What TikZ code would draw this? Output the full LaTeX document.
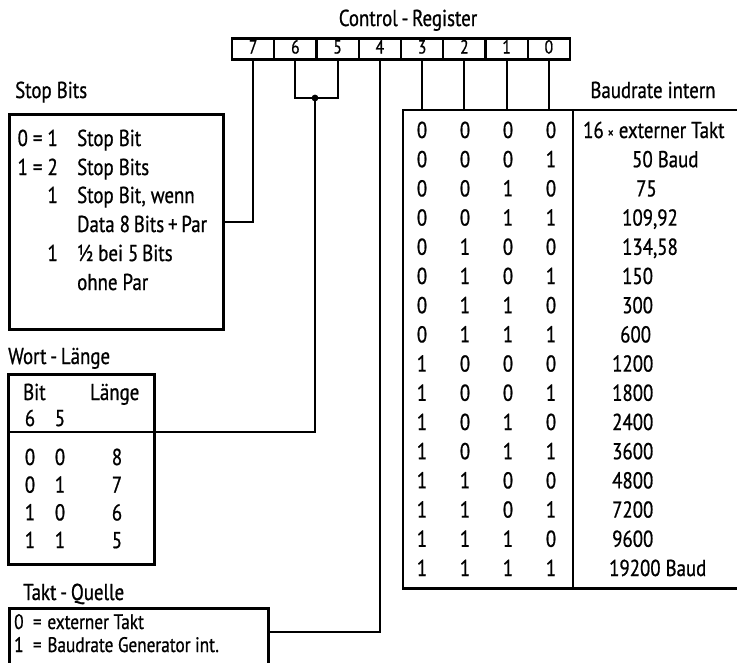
\documentclass[tikz,border=0pt]{standalone}
\usepackage{fontspec}
\setmainfont{PT Sans}[FakeStretch=0.82, FakeBold=0.8]
\usetikzlibrary{positioning}

\tikzstyle{regcell} = [
  rectangle, draw, line width=2.4pt,
  minimum width=42.3pt, minimum height=21pt, inner sep=0pt,
  text height=13pt, text depth=4pt, font=\fontsize{19}{22}\selectfont
]
\tikzstyle{infobox} = [
  rectangle, draw, line width=2.8pt, inner sep=0pt, anchor=north west
]
\tikzstyle{txt} = [anchor=west, inner sep=0pt, text height=16pt, text depth=0pt]
\tikzstyle{ctxt} = [txt, anchor=center]
\tikzstyle{rtxt} = [txt, anchor=east]
\tikzstyle{smalltxt} = [txt, text height=14pt, font=\fontsize{21}{22}\selectfont]
\tikzstyle{wire} = [line width=2.2pt]

\begin{document}
\begin{tikzpicture}[x=1pt, y=-1pt, font=\fontsize{23}{26}\selectfont]
\clip (0,0) rectangle (737,662);

% --- Control register ---
\node[ctxt] (ctrl) at (408,18) {Control\,-\,Register};
\foreach \b [count=\k from 0] in {7,6,5,4,3,2,1,0}
  \node[regcell] (r\b) at ({232+42.25*(\k+0.5)},49) {\b};

% --- Stop Bits ---
\node[txt] (stoplbl) at (15,90) {Stop Bits};
\node[infobox, minimum width=214pt, minimum height=215pt] (stopbox) at (8,113) {};
\node[rtxt] (s1n) at (58,138) {0 = 1};
\node[txt]  (s1t) at (77,138) {Stop Bit};
\node[rtxt] (s2n) at (58,167) {1 = 2};
\node[txt]  (s2t) at (77,167) {Stop Bits};
\node[rtxt] (s3n) at (58,195) {1};
\node[txt]  (s3t) at (77,195) {Stop Bit, wenn};
\node[txt]  (s4t) at (77,224) {Data 8\,Bits\,+\,Par};
\node[rtxt] (s5n) at (58,253) {1};
\node[txt]  (s5t) at (77,253) {½ bei 5\,Bits};
\node[txt]  (s6t) at (77,282) {ohne Par};

% --- Wort-Laenge ---
\node[txt] (wortlbl) at (8,356) {Wort\,-\,Länge};
\node[infobox, minimum width=146pt, minimum height=190pt] (wortbox) at (7,373) {};
\node[txt] (bithdr) at (23,392) {Bit};
\node[txt] (lenhdr) at (90,392) {Länge};
\node[ctxt] (h6) at (30,418) {6};
\node[ctxt] (h5) at (60,418) {5};
\coordinate (wsep) at (153,432);
\draw[wire] (wortbox.west |- wsep) -- (wsep);
\foreach \a/\b/\len [count=\n from 0] in {0/0/8, 0/1/7, 1/0/6, 1/1/5} {
  \node[ctxt] (w\n a) at (30,{457+27.7*\n}) {\a};
  \node[ctxt] (w\n b) at (60,{457+27.7*\n}) {\b};
  \node[ctxt] (w\n l) at (117,{457+27.7*\n}) {\len};
}

% --- Takt-Quelle ---
\node[txt] (taktlbl) at (23,592) {Takt\,-\,Quelle};
\node[infobox, minimum width=259pt, minimum height=90pt] (taktbox) at (8,607) {};
\node[smalltxt] (t0) at (14,622) {0\;\,=\;externer Takt};
\node[smalltxt] (t1) at (14,645) {1\;\,=\;Baudrate Generator int.};
\coordinate (tq) at (267,632);

% --- Baudrate table ---
\node[ctxt] (baudlbl) at (653,90) {Baudrate intern};
\node[rectangle, inner sep=0pt, anchor=north west,
      minimum width=334pt, minimum height=478pt] (baudbox) at (403,110) {};
\draw[line width=2.8pt] (baudbox.north east) -- (baudbox.north west)
  -- (baudbox.south west) -- (baudbox.south east);
\draw[wire] (573,110) -- (573,588);
\foreach \a/\b/\c/\d/\rate/\rx [count=\n from 0] in {
  0/0/0/0/{16\,{\fontsize{15}{15}\selectfont×} externer Takt}/583,
  0/0/0/1/{50 Baud}/632, 0/0/1/0/75/636, 0/0/1/1/{109,92}/622,
  0/1/0/0/{134,58}/622, 0/1/0/1/150/622, 0/1/1/0/300/622,
  0/1/1/1/600/620, 1/0/0/0/1200/612, 1/0/0/1/1800/612,
  1/0/1/0/2400/612, 1/0/1/1/3600/612, 1/1/0/0/4800/612,
  1/1/0/1/7200/612, 1/1/1/0/9600/612, 1/1/1/1/{19200 Baud}/609} {
  \node[ctxt] (b\n a) at (422,{130+29.2*\n}) {\a};
  \node[ctxt] (b\n b) at (465,{130+29.2*\n}) {\b};
  \node[ctxt] (b\n c) at (508,{130+29.2*\n}) {\c};
  \node[ctxt] (b\n d) at (551,{130+29.2*\n}) {\d};
  \node[txt] (b\n r) at (\rx,{130+29.2*\n}) {\rate};
}

% --- Connectors ---
\draw[wire] (r7.south) |- (stopbox.east);
\draw[wire] (r6.south) |- (315,98) -| (r5.south);
\draw[wire] (315,98) |- (wsep);
\fill (315,98) circle (3.4pt);
\draw[wire] (r4.south) |- (tq);
\foreach \b in {3,2,1,0}
  \draw[wire] (r\b.south) -- (r\b.south |- baudbox.north);

\end{tikzpicture}
\end{document}
